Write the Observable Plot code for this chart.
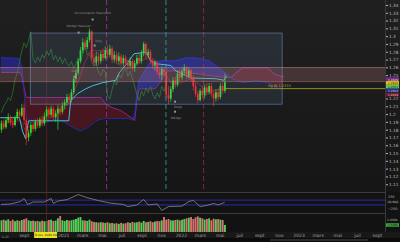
<!DOCTYPE html>
<html><head><meta charset="utf-8">
<script src="https://cdn.jsdelivr.net/npm/d3@7"></script>
<script src="https://cdn.jsdelivr.net/npm/@observablehq/plot@0.6"></script>
<style>
html,body{margin:0;padding:0;background:#111;width:400px;height:242px;overflow:hidden;font-family:"DejaVu Sans",sans-serif;}
#wrap{position:relative;width:400px;height:242px;}
.panel{position:absolute;left:0;width:400px;}
#main{top:0;height:192px;background:linear-gradient(#202020,#161616);}
#cci{top:192px;height:21px;background:#121212;}
#vol{top:213px;height:25px;background:linear-gradient(#121212 0,#121212 19px,#181818 19px);}
#bar{top:238px;height:4px;background:#0b0b0b;}
#scroll{position:absolute;left:270px;top:239px;width:98px;height:2px;background:#2c2c2c;}
svg{display:block}
</style></head><body><div id="wrap">
<div id="main" class="panel"></div><div id="cci" class="panel"></div><div id="vol" class="panel"></div><div id="bar" class="panel"></div><div id="scroll"></div>
</div>
<script>
// ---- weekly candles (week 0 = 2020-06-22) ----
const opens  = [1.180,1.188,1.183,1.192,1.196,1.189,1.186,1.195,1.203,1.198,1.208,1.192,1.170,1.176,1.186,1.181,1.190,1.185,1.193,1.188,1.197,1.206,1.199,1.207,1.196,1.201,1.207,1.203,1.211,1.215,1.222,1.218,1.228,1.245,1.253,1.268,1.282,1.292,1.286,1.295,1.306,1.272,1.266,1.274,1.268,1.277,1.272,1.282,1.276,1.284,1.270,1.276,1.268,1.274,1.265,1.272,1.266,1.262,1.268,1.259,1.265,1.272,1.268,1.278,1.290,1.276,1.280,1.268,1.262,1.266,1.254,1.250,1.258,1.254,1.224,1.220,1.232,1.243,1.238,1.252,1.247,1.255,1.260,1.249,1.256,1.246,1.236,1.226,1.218,1.230,1.224,1.234,1.228,1.236,1.226,1.220,1.228,1.222,1.236,1.230];
const highs  = [1.192,1.193,1.196,1.201,1.199,1.194,1.198,1.207,1.206,1.213,1.214,1.195,1.180,1.190,1.191,1.193,1.195,1.196,1.198,1.202,1.210,1.209,1.211,1.210,1.205,1.212,1.211,1.215,1.219,1.226,1.226,1.232,1.248,1.258,1.272,1.286,1.297,1.296,1.299,1.310,1.308,1.278,1.280,1.279,1.281,1.284,1.287,1.288,1.289,1.287,1.281,1.280,1.279,1.277,1.276,1.275,1.270,1.273,1.271,1.269,1.276,1.277,1.282,1.293,1.292,1.284,1.283,1.272,1.270,1.268,1.260,1.262,1.261,1.258,1.236,1.236,1.247,1.248,1.256,1.258,1.259,1.264,1.262,1.260,1.258,1.250,1.240,1.230,1.233,1.236,1.238,1.240,1.240,1.240,1.230,1.232,1.233,1.240,1.242,1.252];
const lows   = [1.176,1.180,1.181,1.188,1.185,1.182,1.184,1.192,1.193,1.196,1.186,1.160,1.165,1.172,1.177,1.178,1.182,1.182,1.184,1.185,1.193,1.195,1.196,1.192,1.190,1.180,1.198,1.200,1.206,1.211,1.213,1.215,1.225,1.240,1.250,1.265,1.278,1.282,1.283,1.292,1.268,1.262,1.262,1.263,1.265,1.268,1.270,1.271,1.273,1.266,1.266,1.264,1.263,1.261,1.261,1.262,1.257,1.258,1.255,1.254,1.262,1.264,1.265,1.274,1.271,1.272,1.264,1.258,1.256,1.250,1.246,1.244,1.249,1.220,1.213,1.216,1.228,1.233,1.235,1.242,1.243,1.250,1.245,1.246,1.242,1.230,1.222,1.214,1.216,1.220,1.220,1.224,1.225,1.222,1.210,1.216,1.218,1.219,1.226,1.227];
const closes = [1.188,1.183,1.192,1.196,1.189,1.186,1.195,1.203,1.198,1.208,1.192,1.170,1.176,1.186,1.181,1.190,1.185,1.193,1.188,1.197,1.206,1.199,1.207,1.196,1.201,1.207,1.203,1.211,1.215,1.222,1.218,1.228,1.245,1.253,1.268,1.282,1.292,1.286,1.295,1.306,1.272,1.266,1.274,1.268,1.277,1.272,1.282,1.276,1.284,1.270,1.276,1.268,1.274,1.265,1.272,1.266,1.262,1.268,1.259,1.265,1.272,1.268,1.278,1.290,1.276,1.280,1.268,1.262,1.266,1.254,1.250,1.258,1.254,1.224,1.220,1.232,1.243,1.238,1.252,1.247,1.255,1.260,1.249,1.256,1.246,1.236,1.226,1.218,1.230,1.224,1.234,1.228,1.236,1.226,1.220,1.228,1.222,1.236,1.230,1.241];
const volumes = [1913,1957,1892,1979,1870,1957,1848,1913,1870,1935,1979,2045,1913,1870,1892,1848,1870,1826,1892,1848,1870,1935,1957,1870,1892,2045,2198,1913,1870,1935,1892,1913,1957,2001,2089,2132,1913,1892,1870,1957,1848,1804,1782,1760,1782,1760,1738,1782,1716,1738,1694,1716,1673,1738,1694,1716,1782,1738,1804,1760,1782,1826,1760,1870,1782,1804,1848,1782,1826,1870,1848,1913,2132,1957,2001,1913,1892,1935,1957,1913,1957,2001,2045,2089,2132,2001,2110,2176,2089,2045,1957,2001,2045,1913,2023,1979,2001,1957,1935,1596];

// ---- Ichimoku lines (week index, price) ----
const kijunWeek  = [-0.4,8,9.3,10.7,12,19.6,29.8,30.7,33.8,37.3,40.4,44.9,50.7,52,56,58.7,64,66.2,69.3,75.1,77.3,81.8,84,95.1,98.7,99.6];
const kijunValue = [1.196,1.196,1.179,1.169,1.192,1.192,1.192,1.218,1.227,1.233,1.237,1.241,1.244,1.253,1.267,1.278,1.280,1.269,1.265,1.263,1.256,1.250,1.247,1.246,1.244,1.249];
const tenkanWeek  = [-0.4,8.4,10.7,12.9,19.6,24,27.1,30.7,34.2,36.9,39.6,48.4,50.7,55.1,59.6,64,68.4,72.9,76,79.6,84,88.4,92.9,99.6];
const tenkanValue = [1.190,1.192,1.179,1.186,1.192,1.199,1.205,1.218,1.244,1.267,1.282,1.282,1.273,1.269,1.265,1.272,1.267,1.250,1.237,1.241,1.246,1.237,1.231,1.233];
const cloudWeek = [0,8,9,10,11,14,20,24,28,32,35,38,42,44,46,49,53,56,58,59,60,61,64,66,68,71,73,77,82,84,88,92,95,98,101,102,104,107,113,118,120,121,125];
const spanA = [1.254,1.254,1.250,1.235,1.222,1.222,1.222,1.222,1.222,1.222,1.222,1.222,1.222,1.222,1.214,1.209,1.205,1.199,1.195,1.192,1.218,1.233,1.233,1.233,1.233,1.244,1.256,1.256,1.254,1.253,1.252,1.250,1.249,1.248,1.248,1.248,1.254,1.260,1.260,1.260,1.254,1.252,1.248];
const spanB = [1.273,1.272,1.262,1.230,1.195,1.192,1.190,1.195,1.190,1.183,1.179,1.183,1.192,1.194,1.195,1.195,1.195,1.195,1.193,1.199,1.225,1.244,1.259,1.267,1.268,1.269,1.269,1.269,1.273,1.273,1.272,1.269,1.263,1.256,1.249,1.246,1.244,1.241,1.244,1.241,1.238,1.235,1.233];

// ---- CCI (week index, value) ----
const cciWeek  = [0,4,8.4,10,11.6,14,19,22,23,25,29,34,38,43,48,54,56,60,63,65,69,71,74,80,83,85,88,91,94,96,98.7];
const cciValue = [-80,-60,40,170,-80,20,20,170,-40,60,120,330,200,80,-20,-80,-170,-100,125,-100,-60,-330,-170,-150,40,90,-170,-120,-40,-100,0];

// ---- annotations (week index, price, text) ----
const annWeek  = [40.4,34.2,43.1,32.4,78.2,77.3];
const annPrice = [1.3297,1.3130,1.2950,1.2564,1.2102,1.1960];
const annText  = ["Accumulation Haussière","Wedge Haussier","Dojy","Ouv.","Dopp","Wedge"];
const markWeek  = [40.4,34.2,41.3,32.4,76.9,76.9];
const markPrice = [1.3220,1.3053,1.2886,1.2487,1.2166,1.2037];

// ---- ticks / labels ----
const priceTicks = [1.11,1.12,1.13,1.14,1.15,1.16,1.17,1.18,1.19,1.2,1.21,1.22,1.25,1.26,1.27,1.28,1.29,1.3,1.31,1.32,1.33,1.34];
const timeTicks = ["2020-07-01","2020-09-01","2021-01-01","2021-03-01","2021-05-01","2021-07-01","2021-09-01","2021-11-01","2022-01-01","2022-03-01","2022-05-01","2022-07-01","2022-09-01","2022-11-01","2023-01-01","2023-03-01","2023-05-01","2023-07-01","2023-09-01"];
const timeLabels = ["juil","sept","2021","mars","mai","juil","sept","nov","2022","mars","mai","juil","sept","nov","2023","mars","mai","juil","sept"];
const priceTagValues = [1.2449,1.2400,1.2351,1.2302,1.2249];
const priceTagColors = ["#7a2a8a","#e6c619","#5cc85c","#262a9a","#7a1a24"];
const priceTagText   = ["#e0e0e0","#222222","#112211","#cccccc","#cccccc"];
const zoneLow = 1.2423, zoneHigh = 1.2603;
const boxFrom = "2020-09-21", boxTo = "2022-11-11", boxLow = 1.2127, boxHigh = 1.3040;
const kgLevel = 1.2333;
const vlineDates = ["2021-05-14","2021-11-14","2022-03-11"];
const vlineColors = ["#8a2c8e","#2a8a8a","#8a2636"];
const crossDate = "2020-11-09";
const crossLabel = "9 nov. 2020 540";

// ---- derived tables ----
const DAY = 864e5, T0 = Date.UTC(2020,5,22);
const wk = i => new Date(T0 + i*7*DAY);
const D = s => new Date(s + "T00:00Z");
const candles = opens.map((o,i)=>({date:wk(i),o,h:highs[i],l:lows[i],c:closes[i],v:volumes[i],up:closes[i]>=o}));
const cloud = cloudWeek.map((w,k)=>({date:wk(w),a:spanA[k],b:spanB[k]}));
const kijun = kijunWeek.map((w,k)=>({date:wk(w),v:kijunValue[k]}));
const tenkan = tenkanWeek.map((w,k)=>({date:wk(w),v:tenkanValue[k]}));
const chikou = closes.slice(26).map((c,i)=>({date:wk(i),v:c}));
const cci = cciWeek.map((w,k)=>({date:wk(w),v:cciValue[k]}));
const anns = annWeek.map((w,k)=>({date:wk(w),p:annPrice[k],t:annText[k]}));
const marksPts = markWeek.map((w,k)=>({date:wk(w),p:markPrice[k]}));
const xDomain = [D("2020-06-19"), D("2023-09-26")];
const lastDate = candles[candles.length-1].date;
const GREEN = "#2fe02f", RED = "#ff2424";
const VOLBASE = 1125;

const common = {width:400, marginLeft:0, marginRight:15, marginTop:0, color:{type:"identity"},
  style:{background:"transparent", overflow:"visible", fontFamily:"DejaVu Sans, sans-serif"}};
const xs = {type:"utc", domain:xDomain, axis:null, label:null};
const fmtP = d => String(+d.toFixed(2));

// value tags drawn in the right margin, anchored on the plot's last date
const tagMarks = tags => [
  Plot.rect(tags,{x1:()=>xDomain[1], x2:()=>xDomain[1], y1:"v", y2:"v", insetLeft:1, insetRight:-14, insetTop:-1.8, insetBottom:-1.8, fill:"bg"}),
  Plot.text(tags,{x:()=>xDomain[1], y:"v", dx:7.5, text:"t", fill:"fg", fontSize:2.9})
];
const priceTags = priceTagValues.map((v,i)=>({v, bg:priceTagColors[i], fg:priceTagText[i], t:v.toFixed(4)}));

const main = Plot.plot({...common, height:192, marginBottom:0,
  x:xs, y:{domain:[1.1,1.3464], axis:null, label:null},
  marks:[
    Plot.areaY(cloud,{x:"date", y1:"a", y2:d=>Math.max(d.a,d.b), fill:"#24247c", fillOpacity:0.95}),
    Plot.areaY(cloud,{x:"date", y1:"a", y2:d=>Math.min(d.a,d.b), fill:"#4a1620", fillOpacity:0.95}),
    Plot.line(cloud,{x:"date", y:"a", stroke:"#8e2a90", strokeWidth:0.9}),
    Plot.line(cloud,{x:"date", y:"b", stroke:"#2b2bb0", strokeWidth:0.9}),
    Plot.ruleX([D(crossDate)],{stroke:"#5e2626", strokeWidth:0.8}),
    Plot.ruleX(vlineDates,{x:d=>D(d), stroke:(d,i)=>vlineColors[i], strokeWidth:1, strokeDasharray:"5,3"}),
    Plot.line(chikou,{x:"date", y:"v", stroke:"#2a7a2a", strokeWidth:0.9, strokeDasharray:"0.9,1.1"}),
    Plot.line(tenkan,{x:"date", y:"v", stroke:"#9a1a34", strokeWidth:0.9}),
    Plot.line(kijun,{x:"date", y:"v", stroke:"#3fc4e0", strokeWidth:1}),
    Plot.ruleX(candles,{x:"date", y1:"l", y2:"h", stroke:d=>d.up?GREEN:RED, strokeWidth:0.7}),
    Plot.ruleX(candles,{x:"date", y1:"o", y2:"c", stroke:d=>d.up?GREEN:RED, strokeWidth:1.7}),
    Plot.rect([0],{x1:()=>D(boxFrom), x2:()=>D(boxTo), y1:()=>boxLow, y2:()=>boxHigh, fill:"#7a9ad6", fillOpacity:0.12, stroke:"#6f8fc4", strokeOpacity:0.7, strokeWidth:0.8}),
    Plot.rect([0],{x1:()=>xDomain[0], x2:()=>xDomain[1], y1:()=>zoneLow, y2:()=>zoneHigh, fill:"#c07a7a", fillOpacity:0.25}),
    Plot.ruleY([zoneLow, zoneHigh],{x1:xDomain[0], x2:xDomain[1], stroke:"#c98c8c", strokeOpacity:0.6, strokeWidth:0.8}),
    Plot.ruleY([kgLevel],{x1:lastDate, x2:xDomain[1], stroke:"#9c9c1e", strokeWidth:0.9}),
    Plot.text(["Kg W 1.2333"],{x:D("2022-11-01"), y:kgLevel, dy:-2.5, fill:"#b0b030", fontSize:3.5}),
    Plot.dot(marksPts,{x:"date", y:"p", symbol:"square", r:1.1, fill:"#9a9a9a"}),
    Plot.text(anns,{x:"date", y:"p", text:"t", fill:"#8c8c8c", fontSize:3}),
    Plot.ruleX([xDomain[1]],{stroke:"#3a3a3a", strokeWidth:1}),
    Plot.axisY({anchor:"right", label:null, ticks:priceTicks, tickFormat:fmtP, tickSize:2, tickPadding:1.5, fontSize:4.3, color:"#b8b8b8", textAnchor:"start"}),
    ...tagMarks(priceTags),
  ]});
document.getElementById("main").append(main);

const cciPlot = Plot.plot({...common, height:21, marginBottom:0,
  x:xs, y:{domain:[-458,417], axis:null, label:null},
  marks:[
    Plot.ruleY([417],{stroke:"#3c3c3c", strokeWidth:1.2}),
    Plot.ruleY([100,-100],{stroke:"#2b2ba8", strokeWidth:1}),
    Plot.ruleX([D(crossDate)],{stroke:"#5e2626", strokeWidth:0.8}),
    Plot.line(cci,{x:"date", y:"v", stroke:"#8a8a8a", strokeWidth:0.8}),
    Plot.ruleX([xDomain[1]],{stroke:"#3a3a3a", strokeWidth:1}),
    Plot.axisY({anchor:"right", label:null, ticks:[250,-250], tickSize:0, tickPadding:2.5, fontSize:3.4, color:"#b0b0b0", textAnchor:"start"}),
    ...tagMarks([{v:cciValue[cciValue.length-1], bg:"#1c1c1c", fg:"#c8c8c8", t:"21.500"}]),
  ]});
document.getElementById("cci").append(cciPlot);

const volPlot = Plot.plot({...common, height:25, marginBottom:6,
  x:xs, y:{domain:[VOLBASE,2404], axis:null, label:null},
  marks:[
    Plot.ruleY([2404],{stroke:"#3c3c3c", strokeWidth:1.2}),
    Plot.ruleX(candles,{x:"date", y1:VOLBASE, y2:"v", stroke:d=>d.up?"#55d055":"#d97272", strokeWidth:1.9}),
    Plot.ruleX([D(crossDate)],{stroke:"#5e2626", strokeWidth:0.8}),
    Plot.ruleX([xDomain[1]],{stroke:"#3a3a3a", strokeWidth:1}),
    Plot.axisY({anchor:"right", label:null, ticks:[2000], tickFormat:d=>"2.000k", tickSize:0, tickPadding:1.5, fontSize:3.1, color:"#b0b0b0", textAnchor:"start"}),
    ...tagMarks([{v:volumes[volumes.length-1], bg:"#3aa03a", fg:"#111111", t:"1.596k"}]),
    Plot.axisX({label:null, ticks:timeTicks.map(D).slice(1), tickFormat:(d,i)=>timeLabels[i+1], tickSize:0, tickPadding:1.5, fontSize:4.5, color:"#a0a0a0"}),
    Plot.text([timeLabels[0]],{x:D(timeTicks[0]), y:VOLBASE, dy:3.5, textAnchor:"start", dx:-2.5, fill:"#a0a0a0", fontSize:4.5, lineAnchor:"top"}),
    // crosshair date label
    Plot.rect([crossLabel],{x1:()=>D(crossDate), x2:()=>D(crossDate), y1:()=>VOLBASE, y2:()=>VOLBASE, insetLeft:-12, insetRight:-11, insetTop:0, insetBottom:-6, fill:"#e8e020"}),
    Plot.text([crossLabel],{x:()=>D(crossDate), y:()=>VOLBASE, dy:3, text:d=>d, fill:"#111111", fontSize:2.9}),
  ]});
document.getElementById("vol").append(volPlot);
</script>
</body></html>
